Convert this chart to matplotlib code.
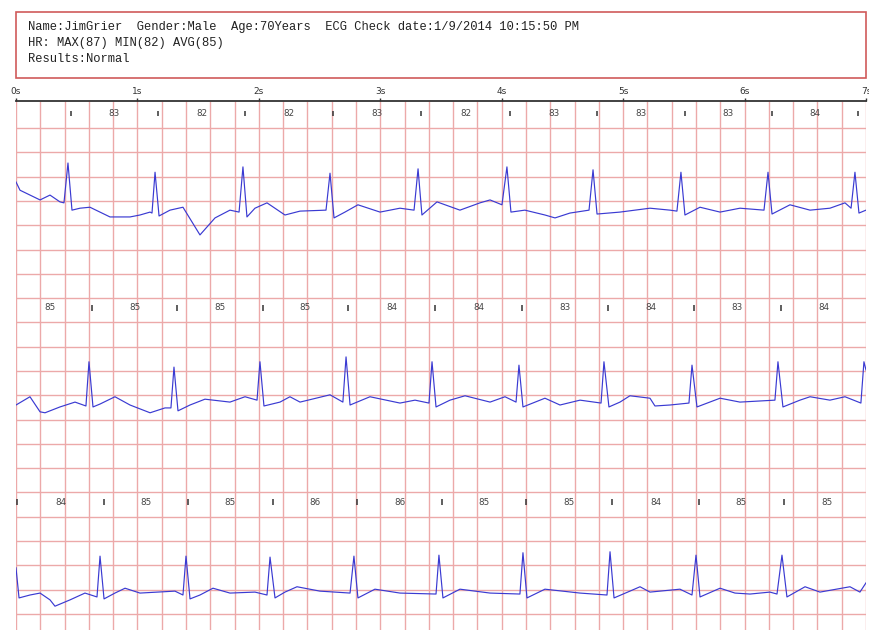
import numpy as np
import matplotlib.pyplot as plt

# header text of the report
header_lines = [
    "Name:JimGrier  Gender:Male  Age:70Years  ECG Check date:1/9/2014 10:15:50 PM",
    "HR: MAX(87) MIN(82) AVG(85)",
    "Results:Normal",
]

# R-wave marks (s), continuous over the three 7 s strips
beat_times = [0.453, 1.169, 1.886, 2.611, 3.335, 4.068, 4.785, 5.509, 6.226, 6.934,
              7.626, 8.326, 9.034, 9.734, 10.451, 11.167, 11.875, 12.583, 13.300,
              14.008, 14.724, 15.416, 16.116, 16.808, 17.508, 18.200, 18.908, 19.624,
              20.324, 21.030]
# heart rate printed between two marks
hr_labels = [83, 82, 82, 83, 82, 83, 83, 83, 84,
             85, 85, 85, 85, 84, 84, 83, 84, 83, 84,
             84, 85, 85, 86, 86, 85, 85, 84, 85, 85]

# ECG trace per strip: time (s) and amplitude (mV)
row1_t = [0, 0.033, 0.198, 0.280, 0.362, 0.395, 0.428, 0.461, 0.527, 0.609,
          0.774, 0.939, 1.021, 1.104, 1.120, 1.145, 1.178, 1.268, 1.375, 1.515,
          1.639, 1.762, 1.837, 1.869, 1.902, 1.968, 2.067, 2.215, 2.339, 2.553,
          2.586, 2.619, 2.709, 2.816, 2.998, 3.162, 3.278, 3.311, 3.343, 3.467,
          3.656, 3.821, 3.904, 4.002, 4.043, 4.076, 4.191, 4.356, 4.439, 4.562,
          4.719, 4.752, 4.785, 4.974, 5.221, 5.386, 5.443, 5.476, 5.509, 5.633,
          5.798, 5.962, 6.160, 6.193, 6.226, 6.374, 6.539, 6.703, 6.827, 6.877,
          6.909, 6.942, 7.0]
row1_mv = [0.39, 0.22, 0.02, 0.12, -0.02, -0.04, 0.78, -0.19, -0.15, -0.13,
           -0.33, -0.33, -0.29, -0.23, -0.25, 0.59, -0.31, -0.19, -0.13, -0.70,
           -0.35, -0.19, -0.23, 0.70, -0.33, -0.15, -0.04, -0.29, -0.21, -0.19,
           0.57, -0.35, -0.23, -0.08, -0.23, -0.15, -0.19, 0.66, -0.29, -0.02,
           -0.19, -0.04, 0.02, -0.08, 0.70, -0.23, -0.19, -0.29, -0.35, -0.25,
           -0.19, 0.64, -0.27, -0.23, -0.15, -0.19, -0.21, 0.59, -0.29, -0.13,
           -0.23, -0.15, -0.19, 0.59, -0.27, -0.08, -0.19, -0.15, -0.04, -0.15,
           0.59, -0.25, -0.19]

row2_t = [0, 0.115, 0.198, 0.239, 0.362, 0.486, 0.576, 0.601, 0.634, 0.692,
          0.815, 0.939, 1.104, 1.227, 1.276, 1.301, 1.334, 1.433, 1.556, 1.762,
          1.886, 1.985, 2.009, 2.042, 2.174, 2.256, 2.339, 2.586, 2.692, 2.718,
          2.751, 2.915, 3.162, 3.286, 3.401, 3.426, 3.459, 3.574, 3.698, 3.904,
          4.027, 4.118, 4.142, 4.175, 4.356, 4.480, 4.645, 4.818, 4.842, 4.883,
          4.974, 5.056, 5.221, 5.262, 5.386, 5.542, 5.567, 5.608, 5.798, 5.962,
          6.250, 6.275, 6.316, 6.456, 6.539, 6.703, 6.827, 6.958, 6.983, 7.0]
row2_mv = [-0.20, -0.03, -0.34, -0.36, -0.24, -0.14, -0.22, 0.69, -0.24, -0.18,
           -0.03, -0.20, -0.36, -0.26, -0.26, 0.58, -0.32, -0.20, -0.08, -0.14,
           -0.03, -0.10, 0.69, -0.22, -0.14, -0.03, -0.14, 0.01, -0.14, 0.79,
           -0.20, -0.03, -0.16, -0.10, -0.16, 0.69, -0.24, -0.10, -0.01, -0.14,
           -0.03, -0.14, 0.62, -0.24, -0.06, -0.20, -0.10, -0.16, 0.69, -0.24,
           -0.14, -0.01, -0.06, -0.22, -0.20, -0.16, 0.62, -0.24, -0.06, -0.14,
           -0.10, 0.69, -0.24, -0.10, -0.03, -0.10, -0.03, -0.16, 0.69, 0.52]

row3_t = [0, 0.025, 0.115, 0.198, 0.280, 0.321, 0.445, 0.568, 0.667, 0.692,
          0.725, 0.815, 0.898, 1.021, 1.309, 1.375, 1.400, 1.433, 1.515, 1.622,
          1.762, 1.968, 2.067, 2.092, 2.133, 2.215, 2.314, 2.503, 2.751, 2.783,
          2.816, 2.956, 3.162, 3.459, 3.483, 3.516, 3.656, 3.904, 4.150, 4.175,
          4.208, 4.356, 4.645, 4.867, 4.892, 4.925, 5.056, 5.139, 5.221, 5.468,
          5.567, 5.600, 5.633, 5.798, 5.921, 6.045, 6.209, 6.267, 6.308, 6.349,
          6.498, 6.621, 6.868, 6.950, 7.0]
row3_mv = [0.45, -0.17, -0.11, -0.07, -0.21, -0.34, -0.21, -0.07, -0.15, 0.69,
           -0.19, -0.07, 0.03, -0.07, -0.03, -0.11, 0.69, -0.19, -0.11, 0.03,
           -0.07, -0.05, -0.11, 0.67, -0.17, -0.05, 0.06, -0.03, -0.07, 0.69,
           -0.17, 0.01, -0.07, -0.09, 0.71, -0.17, 0.01, -0.07, -0.09, 0.76,
           -0.17, 0.01, -0.07, -0.11, 0.78, -0.17, -0.03, 0.06, -0.05, 0.01,
           -0.11, 0.71, -0.15, 0.03, -0.07, -0.09, -0.05, -0.09, 0.71, -0.15,
           0.06, -0.05, 0.06, -0.05, 0.14]

strips = [(row1_t, row1_mv), (row2_t, row2_mv), (row3_t, row3_mv)]
strip_len = 7.0      # seconds per strip
row_gap = 4.0        # mV between strip baselines
label_level = 1.8    # mV above a strip baseline for the HR text

fig = plt.figure(figsize=(8.7, 6.3), dpi=100)

# header box
W, H = 870.0, 630.0
fig.patches.append(plt.Rectangle((16 / W, 1 - 78 / H), 850 / W, 66 / H,
                                 transform=fig.transFigure, fill=False,
                                 edgecolor='#d05a5a', linewidth=1.2))
for i, line in enumerate(header_lines):
    fig.text(28 / W, 1 - (27 + 16 * i) / H, line, family='Liberation Mono',
             fontsize=8.7, color='#222222', va='center', ha='left')

ax = fig.add_axes([16 / W, 0, 850 / W, 529 / H])
ax.set_xlim(0, strip_len)
ax.set_ylim(-8.83, 2.056)

# paper grid: 0.2 s by 0.5 mV
ax.vlines(np.arange(0, strip_len + 0.01, 0.2), -8.83, 2.056,
          color='#eca9a9', linewidth=1.0, zorder=1)
ax.hlines(np.arange(-8.5, 2.0, 0.5), 0, strip_len,
          color='#eca9a9', linewidth=1.0, zorder=1)

for r, (t, mv) in enumerate(strips):
    ax.plot(t, np.array(mv) - row_gap * r, color='#3a3ad2', linewidth=0.85, zorder=3)

# beat marks and heart rate labels
for tb in beat_times:
    r = int(tb // strip_len)
    if r > 2:
        continue
    y0 = label_level - row_gap * r
    ax.vlines(tb - strip_len * r, y0 - 0.06, y0 + 0.06, color='#333333',
              linewidth=1.1, zorder=4)
for i, hr in enumerate(hr_labels):
    mid = (beat_times[i] + beat_times[i + 1]) / 2
    r = int(mid // strip_len)
    ax.text(mid - strip_len * r, label_level - row_gap * r, str(hr),
            fontsize=6.3, color='#444444', ha='center', va='center', zorder=4)

# time ruler on top
ax.xaxis.tick_top()
ax.set_xticks(range(8))
ax.set_xticklabels([f"{s}s" for s in range(8)])
ax.tick_params(axis='x', direction='out', length=2.5, width=1.0, colors='#333333',
               labelsize=6.5, pad=1.0)
ax.set_yticks([])
for side in ['left', 'right', 'bottom']:
    ax.spines[side].set_visible(False)
ax.spines['top'].set_color('#333333')
ax.spines['top'].set_linewidth(1.3)
ax.spines['top'].set_zorder(5)

plt.savefig("out.png", dpi=100)
